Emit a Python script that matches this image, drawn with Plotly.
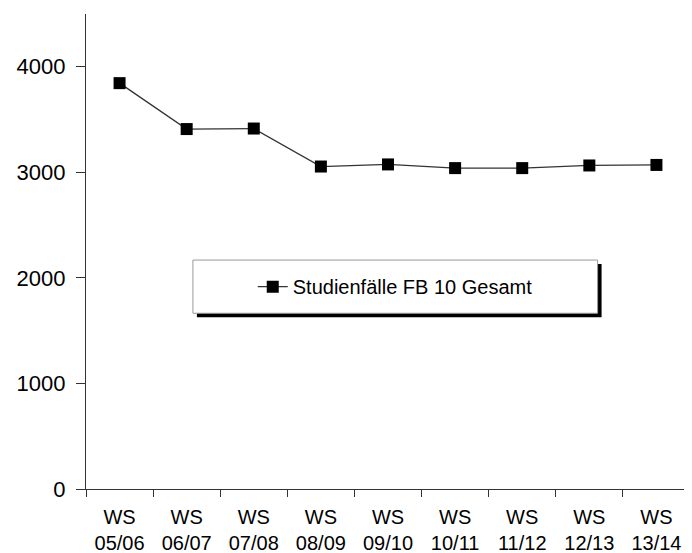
import plotly.graph_objects as go

# Studienfälle per winter semester
semester = ["WS<br>05/06", "WS<br>06/07", "WS<br>07/08", "WS<br>08/09", "WS<br>09/10",
            "WS<br>10/11", "WS<br>11/12", "WS<br>12/13", "WS<br>13/14"]
faelle = [3845, 3410, 3415, 3055, 3075, 3040, 3040, 3065, 3070]
series_name = "Studienfälle FB 10 Gesamt"

FONT = "Liberation Sans, Arial, sans-serif"
AXIS = "#333333"

# page body adds an 8px offset, so the figure is a bit smaller than the window
W, H = 684, 545
M = dict(l=78, r=2, t=6, b=64)
pw = W - M["l"] - M["r"]
ph = H - M["t"] - M["b"]

fig = go.Figure(go.Scatter(
    x=semester, y=faelle, name=series_name, mode="lines+markers",
    line=dict(color=AXIS, width=1.3),
    marker=dict(symbol="square", size=12, color="black"),
))

# legend box with drop shadow (paper coords of plot area)
box = dict(x0=0.177, x1=0.847, y0=0.37, y1=0.482)
sh = 4 / pw
shv = 4 / ph
fig.add_shape(type="rect", xref="paper", yref="paper",
              x0=box["x0"] + sh, x1=box["x1"] + sh, y0=box["y0"] - shv, y1=box["y1"] - shv,
              fillcolor="black", line_width=0, layer="above")
fig.add_shape(type="rect", xref="paper", yref="paper", **box,
              fillcolor="white", line=dict(color="#9a9a9a", width=1), layer="above")

fig.update_layout(
    width=W, height=H,
    margin=dict(**M, autoexpand=False),
    paper_bgcolor="white", plot_bgcolor="white",
    font=dict(family=FONT, size=22, color="black"),
    showlegend=True,
    legend=dict(x=0.5 * (box["x0"] + box["x1"]), y=0.5 * (box["y0"] + box["y1"]),
                xanchor="center", yanchor="middle",
                bgcolor="rgba(0,0,0,0)", borderwidth=0,
                font=dict(size=20), itemwidth=30),
    xaxis=dict(type="category", range=[-0.5, 8.5], tickson="boundaries",
               ticks="outside", ticklen=7, tickcolor=AXIS, automargin=False,
               showline=True, linecolor=AXIS, linewidth=1.3,
               showgrid=False, zeroline=False, tickfont=dict(size=20),
               ticklabelstandoff=10),
    yaxis=dict(range=[0, 4500], tickvals=[0, 1000, 2000, 3000, 4000],
               ticks="outside", ticklen=9, tickcolor=AXIS, automargin=False,
               showline=True, linecolor=AXIS, linewidth=1.3,
               showgrid=False, zeroline=False, ticklabelstandoff=6),
)

fig.write_html("out.html")
